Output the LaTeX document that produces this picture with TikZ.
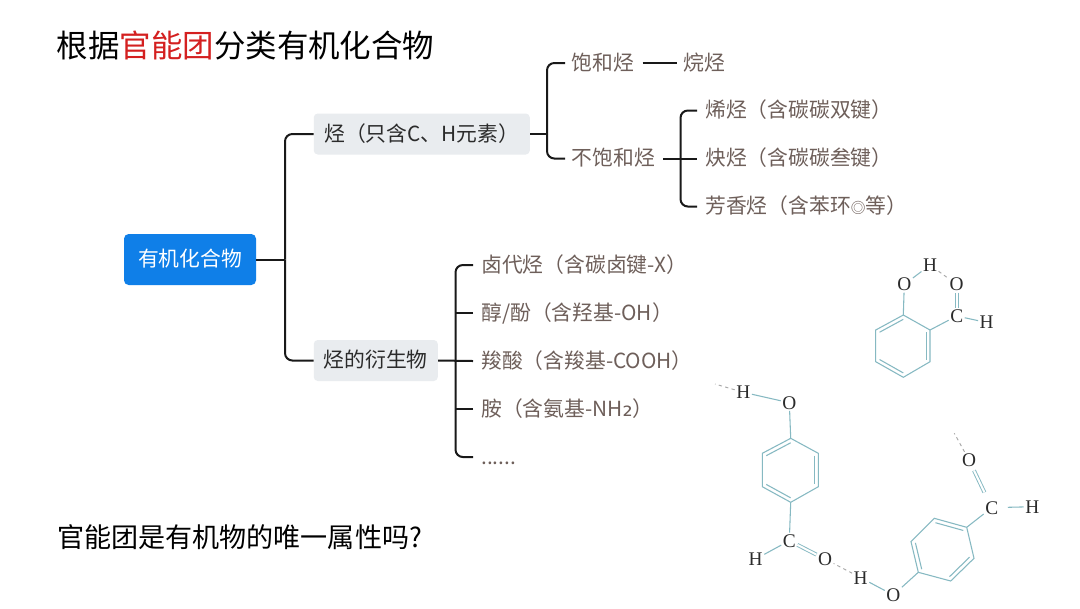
\documentclass[tikz,border=0pt]{standalone}
\usepackage{fontspec}
\setmainfont{Noto Sans CJK SC}
\newfontfamily\atomfont{Liberation Serif}
\newfontfamily\subfont{DejaVu Sans}
\usetikzlibrary{calc}
\definecolor{rootblue}{HTML}{0F7FE8}
\definecolor{boxgray}{HTML}{E9ECEF}
\definecolor{leafbrown}{HTML}{6E5F5A}
\definecolor{darktext}{HTML}{2B2B2B}
\definecolor{bondteal}{HTML}{86B9C2}
\definecolor{hdash}{HTML}{A8A8A8}
\definecolor{titlered}{HTML}{D42020}
\tikzset{
  x=0.75pt,y=-0.75pt,
  txt/.style={font=\fontsize{15.6pt}{18pt}\selectfont,text height=13pt,text depth=2pt,inner ysep=0pt,inner xsep=0pt,anchor=west},
  rootbox/.style={txt,anchor=center,fill=rootblue,text=white,rounded corners=3.5pt,minimum width=99pt,minimum height=38.25pt,inner sep=0pt},
  graybox/.style={txt,fill=boxgray,text=darktext,rounded corners=3pt,inner xsep=7.5pt,minimum height=30.75pt,align=left},
  leaf/.style={txt,text=leafbrown,inner xsep=6pt},
  upleaf/.style={txt,text=leafbrown,inner xsep=5pt},
  bigtext/.style={font=\fontsize{23.6pt}{28pt}\selectfont,anchor=west,inner sep=0pt,text=black},
  asktext/.style={font=\fontsize{20.3pt}{24pt}\selectfont,anchor=west,inner sep=0pt,text=black},
  conn/.style={line width=1.5pt,black!90,rounded corners=5.5pt},
  atom/.style={font=\atomfont\fontsize{14.5pt}{15pt}\selectfont,text=darktext,inner sep=1pt},
  bond/.style={line width=0.8pt,bondteal},
  dbond/.style={line width=0.7pt,bondteal,double=white,double distance=1.5pt},
  hbond/.style={line width=0.7pt,hdash,dash pattern=on 2.5pt off 2.5pt},
}
\begin{document}
\begin{tikzpicture}
\useasboundingbox (0,0) rectangle (1080,608);
\fill[white] (0,0) rectangle (1080,608);
% titles
\node[bigtext] (title) at (56.5,46) {根据\textcolor{titlered}{官能团}分类有机化合物};
\node[asktext] (ask) at (57,537) {官能团是有机物的唯一属性吗?};
% main nodes
\node[rootbox] (root) at (190,259.5) {有机化合物};
\node[graybox,minimum width=162pt] (hc) at (313.5,134) {烃（只含C、H元素）};
\node[graybox] (deriv) at (313.5,360.5) {烃的衍生物};
% upper leaves
\node[upleaf] (sat) at (565,63) {饱和烃};
\node[upleaf] (alk) at (677,63) {烷烃};
\node[upleaf] (unsat) at (565,158.5) {不饱和烃};
\node[leaf] (ene) at (697,110.5) {烯烃（含碳碳双键）};
\node[leaf] (yne) at (697,158.5) {炔烃（含碳碳叁键）};
\node[leaf] (aro) at (697,206.5) {芳香烃（含苯环{\fontsize{11pt}{11pt}\selectfont ◎}等）};
% lower leaves
\node[leaf] (hal) at (473,265) {卤代烃（含碳卤键-X）};
\node[leaf] (alc) at (473,313) {醇/酚（含羟基-OH）};
\node[leaf] (acid) at (473,361) {羧酸（含羧基-COOH）};
\node[leaf] (amine) at (473,409) {胺（含氨基-NH{\subfont\fontsize{19pt}{19pt}\selectfont ₂}）};
\node[leaf] (etc) at (473,457) {......};
% junctions
\coordinate (j0) at (285,259.5);
\coordinate (j1) at (547,134);
\coordinate (j2) at (680.5,158.5);
\coordinate (j3) at (455.5,361);
% connectors
\draw[conn] (root.east) -- (j0);
\draw[conn] (hc.west) -| (j0);
\draw[conn] (deriv.west) -| (j0);
\draw[conn] (hc.east) -- (j1);
\draw[conn] (sat.west) -| (j1);
\draw[conn] (unsat.west) -| (j1);
\draw[conn] ([xshift=1pt]sat.east) -- (alk.west);
\draw[conn] ([xshift=1pt]unsat.east) -- (yne.west);
\draw[conn] (ene.west) -| (j2);
\draw[conn] (aro.west) -| (j2);
\draw[conn] (deriv.east) -- (acid.west);
\draw[conn] (hal.west) -| (j3);
\draw[conn] (etc.west) -| (j3);
\draw[conn] (alc.west) -- (alc.west -| j3);
\draw[conn] (amine.west) -- (amine.west -| j3);
% molecule 1
\coordinate (a1) at (903.3,315); \coordinate (a2) at (930,330); \coordinate (a3) at (930,361.7);
\coordinate (a4) at (903.3,377.3); \coordinate (a5) at (875.7,361.7); \coordinate (a6) at (875.7,330);
\coordinate (ac) at (903,346);
\node[atom] (aO) at (904.3,284.5) {O};
\node[atom] (aH) at (930,265) {H};
\node[atom] (aO2) at (956.7,284.5) {O};
\node[atom] (aC) at (956.7,316) {C};
\node[atom] (aH2) at (986.7,322.5) {H};
\draw[bond] (a1)--(a2)--(a3)--(a4)--(a5)--(a6)--cycle;
\draw[bond] ($(a1)!.14!(ac)$)--($(a6)!.14!(ac)$);
\draw[bond] ($(a2)!.14!(ac)$)--($(a3)!.14!(ac)$);
\draw[bond] ($(a4)!.14!(ac)$)--($(a5)!.14!(ac)$);
\draw[bond] (a1)--(aO); \draw[bond] (a2)--(aC);
\draw[bond] (aO)--(aH); \draw[hbond] (aH)--(aO2);
\draw[dbond] (aO2)--(aC); \draw[bond] (aC)--(aH2);
% molecule 2
\coordinate (b1) at (790.7,438.3); \coordinate (b2) at (818.3,453.3); \coordinate (b3) at (818.3,486.7);
\coordinate (b4) at (790.7,502.3); \coordinate (b5) at (762.3,486.7); \coordinate (b6) at (762.3,453.3);
\coordinate (bc) at (790.5,470.3);
\coordinate (bfree) at (715,384);
\node[atom] (bO) at (789.3,402.7) {O};
\node[atom] (bH) at (743.3,392.3) {H};
\node[atom] (bC) at (789.3,540.7) {C};
\node[atom] (bH2) at (755.7,559) {H};
\node[atom] (bO2) at (825,559) {O};
\draw[bond] (b1)--(b2)--(b3)--(b4)--(b5)--(b6)--cycle;
\draw[bond] ($(b1)!.14!(bc)$)--($(b6)!.14!(bc)$);
\draw[bond] ($(b2)!.14!(bc)$)--($(b3)!.14!(bc)$);
\draw[bond] ($(b4)!.14!(bc)$)--($(b5)!.14!(bc)$);
\draw[bond] (b1)--(bO); \draw[bond] (b4)--(bC);
\draw[bond] (bO)--(bH); \draw[hbond] (bH)--(bfree);
\draw[bond] (bC)--(bH2); \draw[dbond] (bC)--(bO2);
% molecule 3
\coordinate (c1) at (966.7,527.3); \coordinate (c2) at (974,558.3); \coordinate (c3) at (950.7,581);
\coordinate (c4) at (918.3,572.3); \coordinate (c5) at (911,541.7); \coordinate (c6) at (934.3,518.3);
\coordinate (cc) at (942.5,549.8);
\coordinate (cfree) at (954.3,433.3);
\node[atom] (cH) at (860.7,577.7) {H};
\node[atom] (cO) at (893.3,595) {O};
\node[atom] (cC) at (991.7,507.7) {C};
\node[atom] (cH2) at (1032.3,506.7) {H};
\node[atom] (cO2) at (969,460) {O};
\draw[bond] (c1)--(c2)--(c3)--(c4)--(c5)--(c6)--cycle;
\draw[bond] ($(c1)!.14!(cc)$)--($(c6)!.14!(cc)$);
\draw[bond] ($(c2)!.14!(cc)$)--($(c3)!.14!(cc)$);
\draw[bond] ($(c4)!.14!(cc)$)--($(c5)!.14!(cc)$);
\draw[bond] (c1)--(cC); \draw[bond] (c4)--(cO);
\draw[bond] (cO)--(cH); \draw[hbond] (cH)--(bO2);
\draw[bond,shorten <=6pt] (cC)--(cH2);
\draw[dbond,shorten >=6pt,shorten <=2pt] (cO2)--(cC);
\draw[hbond] (cO2)--(cfree);
\end{tikzpicture}
\end{document}
